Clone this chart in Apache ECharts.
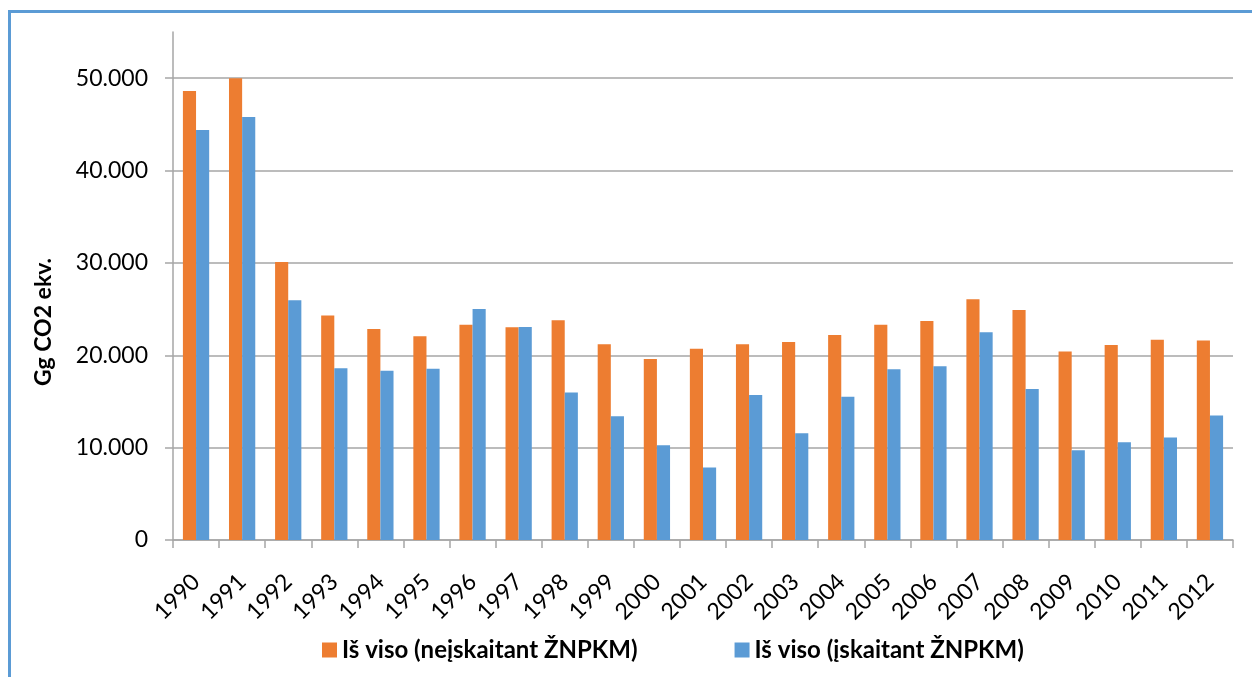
<!DOCTYPE html>
<html>
<head>
<meta charset="utf-8">
<script src="https://cdn.jsdelivr.net/npm/echarts@6/dist/echarts.min.js"></script>
<style>
  html, body { margin: 0; padding: 0; background: #fff; }
  #chart { position: absolute; left: 0; top: 0; width: 1252px; height: 677px; }
  #frame { position: absolute; left: 8px; top: 10px; right: 0; bottom: 0;
           border-left: 3px solid #5b9bd5; border-top: 3px solid #5b9bd5;
           pointer-events: none; }
</style>
</head>
<body>
<div id="chart"></div>
<div id="frame"></div>
<script>
// Years on the category axis
const years = ['1990','1991','1992','1993','1994','1995','1996','1997','1998','1999','2000',
  '2001','2002','2003','2004','2005','2006','2007','2008','2009','2010','2011','2012'];

// Total emissions excluding LULUCF (Gg CO2 eq.)
const excludingLulucf = [48600, 50000, 30100, 24300, 22850, 22050, 23300, 23030, 23800, 21200, 19600,
  20700, 21200, 21430, 22200, 23300, 23700, 26070, 24900, 20400, 21100, 21670, 21600];

// Total emissions including LULUCF (Gg CO2 eq.)
const includingLulucf = [44400, 45800, 25950, 18600, 18330, 18550, 25020, 23070, 15970, 13400, 10250,
  7850, 15700, 11550, 15500, 18480, 18800, 22500, 16340, 9710, 10580, 11090, 13490];

const yTicks = [0, 10000, 20000, 30000, 40000, 50000];

const seriesNames = ['Iš viso (neįskaitant ŽNPKM)', 'Iš viso (įskaitant ŽNPKM)'];
const yAxisTitle = 'Gg CO2 ekv.';

const fontFamily = 'Lato, "Noto Sans", sans-serif';
const gridColor = '#a6a6a6';

function fmtThousands(v) {
  return String(v).replace(/\B(?=(\d{3})+(?!\d))/g, '.');
}

const chart = echarts.init(document.getElementById('chart'), null, { renderer: 'canvas' });

chart.setOption({
  animation: false,
  textStyle: { fontFamily },
  grid: { left: 173, right: 19, top: 32, bottom: 137, containLabel: false },
  legend: {
    left: 317,
    top: 633,
    itemWidth: 15,
    itemHeight: 15,
    itemGap: 97,
    icon: 'rect',
    textStyle: { fontFamily, fontSize: 24, fontWeight: 'bold', color: '#000' },
    data: seriesNames
  },
  // vertical axis title, set a little below the middle of the axis
  graphic: [{
    type: 'text',
    left: 32,
    top: 258,
    rotation: Math.PI / 2,
    style: {
      text: yAxisTitle,
      font: 'bold 23px ' + fontFamily,
      fill: '#000'
    }
  }],
  xAxis: {
    type: 'category',
    data: years,
    axisLine: { lineStyle: { color: gridColor, width: 1.5 } },
    axisTick: { show: true, length: 8, lineStyle: { color: gridColor, width: 1.5 } },
    axisLabel: { rotate: 45, fontSize: 23, color: '#000', margin: 38, fontFamily, interval: 0 }
  },
  yAxis: {
    type: 'value',
    min: 0,
    max: 55000,
    interval: 10000,
    axisLine: { show: true, lineStyle: { color: gridColor, width: 1.5 } },
    axisTick: { show: true, length: 8, customValues: yTicks, lineStyle: { color: gridColor, width: 1.5 } },
    axisLabel: {
      fontSize: 23, color: '#000', margin: 25, fontFamily,
      customValues: yTicks,
      formatter: v => fmtThousands(v)
    },
    splitLine: { show: true, lineStyle: { color: gridColor, width: 1.5 } }
  },
  series: [
    {
      name: seriesNames[0],
      type: 'bar',
      data: excludingLulucf,
      barGap: '0%',
      barCategoryGap: '43%',
      itemStyle: { color: '#ed7d31' }
    },
    {
      name: seriesNames[1],
      type: 'bar',
      data: includingLulucf,
      barGap: '0%',
      barCategoryGap: '43%',
      itemStyle: { color: '#5b9bd5' }
    }
  ]
});
</script>
</body>
</html>
